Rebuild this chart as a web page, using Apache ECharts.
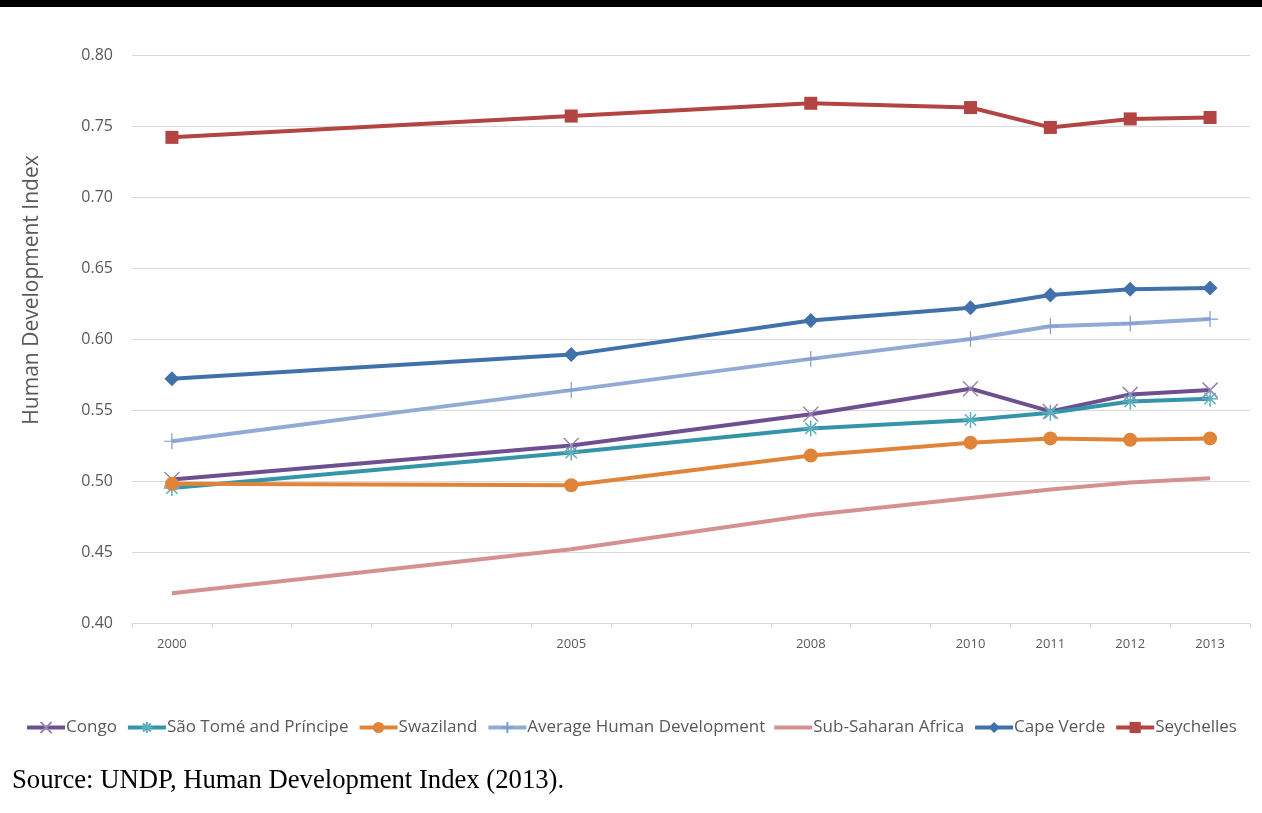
<!DOCTYPE html>
<html>
<head>
<meta charset="utf-8">
<script src="https://cdn.jsdelivr.net/npm/echarts@6/dist/echarts.min.js"></script>
<style>
  html, body { margin: 0; padding: 0; background: #fff; }
  #chart { width: 1262px; height: 813px; }
</style>
</head>
<body>
<div id="chart"></div>
<script>
// Years on the date axis (one slot per year, labels only where data exists)
const years = ['2000','2001','2002','2003','2004','2005','2006','2007','2008','2009','2010','2011','2012','2013'];
const labelledYears = ['2000','2005','2008','2010','2011','2012','2013'];

// HDI values per labelled year (2000, 2005, 2008, 2010, 2011, 2012, 2013)
const congo      = [0.501, 0.525, 0.547, 0.565, 0.549, 0.561, 0.564];
const saoTome    = [0.495, 0.520, 0.537, 0.543, 0.548, 0.556, 0.558];
const swaziland  = [0.498, 0.497, 0.518, 0.527, 0.530, 0.529, 0.530];
const avgHuman   = [0.528, 0.564, 0.586, 0.600, 0.609, 0.611, 0.614];
const subSaharan = [0.421, 0.452, 0.476, 0.488, 0.494, 0.499, 0.502];
const capeVerde  = [0.572, 0.589, 0.613, 0.622, 0.631, 0.635, 0.636];
const seychelles = [0.742, 0.757, 0.766, 0.763, 0.749, 0.755, 0.756];

const yTicks = ['0.40','0.45','0.50','0.55','0.60','0.65','0.70','0.75','0.80'];

// Spread a per-labelled-year series over the full year axis
function spread(vals) {
  return years.map(y => {
    const i = labelledYears.indexOf(y);
    return i >= 0 ? vals[i] : null;
  });
}

const crossPath = 'path://M0,0L10,10M10,0L0,10';
const starPath  = 'path://M5,0L5,10M0,5L10,5M1.5,1.5L8.5,8.5M8.5,1.5L1.5,8.5';
const plusPath  = 'path://M5,0L5,10M0,5L10,5';
// plain line swatch for the marker-less series in the legend
const barIcon   = 'path://M0,0L38,0L38,4L0,4Z';

function lineSeries(name, vals, color, opts) {
  return Object.assign({
    name: name,
    type: 'line',
    data: spread(vals),
    connectNulls: true,
    lineStyle: { color: color, width: 4 },
    itemStyle: { color: color },
    z: 2
  }, opts || {});
}

const series = [
  lineSeries('Congo', congo, '#6E4F8F', {
    symbol: crossPath, symbolSize: 15,
    itemStyle: { color: 'rgba(0,0,0,0)', borderColor: '#9A84B6', borderWidth: 1.5 }
  }),
  lineSeries('São Tomé and Príncipe', saoTome, '#3595A8', {
    symbol: starPath, symbolSize: 16,
    itemStyle: { color: 'rgba(0,0,0,0)', borderColor: '#5AAFC0', borderWidth: 1.5 }
  }),
  lineSeries('Swaziland', swaziland, '#E0843A', {
    symbol: 'circle', symbolSize: 14,
    itemStyle: { color: '#E0843A' }
  }),
  lineSeries('Average Human Development', avgHuman, '#92AAD6', {
    symbol: plusPath, symbolSize: 16,
    itemStyle: { color: 'rgba(0,0,0,0)', borderColor: '#7F9BCF', borderWidth: 1.2 }
  }),
  lineSeries('Sub-Saharan Africa', subSaharan, '#D49190', {
    symbol: 'none',
    itemStyle: { color: '#D49190' }
  }),
  lineSeries('Cape Verde', capeVerde, '#4171AA', {
    symbol: 'diamond', symbolSize: 15,
    itemStyle: { color: '#4171AA' }
  }),
  lineSeries('Seychelles', seychelles, '#B24441', {
    symbol: 'rect', symbolSize: 13,
    itemStyle: { color: '#B24441' }
  })
];

const chart = echarts.init(document.getElementById('chart'), null, { renderer: 'canvas' });

chart.setOption({
  animation: false,
  backgroundColor: '#ffffff',
  textStyle: { fontFamily: '"Open Sans", "Noto Sans", sans-serif' },
  grid: { left: 132, right: 12, top: 55, bottom: 190, containLabel: false },
  xAxis: {
    type: 'category',
    data: years,
    boundaryGap: true,
    axisLine: { show: true, lineStyle: { color: '#D9D9D9', width: 1 } },
    axisTick: { show: true, length: 5, lineStyle: { color: '#D9D9D9' } },
    axisLabel: {
      interval: 0,
      margin: 15,
      fontSize: 13,
      color: '#595959',
      formatter: v => labelledYears.indexOf(v) >= 0 ? v : ''
    },
    splitLine: { show: false }
  },
  yAxis: {
    type: 'value',
    min: 0.40,
    max: 0.80,
    interval: 0.05,
    axisLine: { show: false },
    axisTick: { show: false },
    axisLabel: {
      margin: 19,
      fontSize: 16,
      color: '#595959',
      formatter: v => yTicks[Math.round((v - 0.40) / 0.05)]
    },
    splitLine: { lineStyle: { color: '#D9D9D9', width: 1 } }
  },
  legend: {
    bottom: 72,
    left: 'center',
    itemWidth: 38,
    itemHeight: 14,
    itemGap: 9,
    symbolKeepAspect: true,
    lineStyle: { width: 4 },
    textStyle: { fontSize: 17, color: '#595959', padding: [0, 0, 0, -4] },
    data: series.map(s => s.symbol === 'none' ? { name: s.name, icon: barIcon } : { name: s.name })
  },
  series: series,
  graphic: [
    { type: 'rect', left: 0, top: 0, shape: { width: 1262, height: 7 }, style: { fill: '#000' } },
    {
      type: 'text',
      x: 32, y: 290,
      rotation: Math.PI / 2,
      style: {
        text: 'Human Development Index',
        fontSize: 21,
        fill: '#595959',
        fontFamily: '"Open Sans", "Noto Sans", sans-serif',
        align: 'center',
        verticalAlign: 'middle'
      }
    },
    {
      type: 'text',
      left: 12, top: 767,
      style: {
        text: 'Source: UNDP, Human Development Index (2013).',
        fontSize: 26.7,
        fill: '#000',
        fontFamily: '"Liberation Serif", "Times New Roman", serif'
      }
    }
  ]
});
</script>
</body>
</html>
